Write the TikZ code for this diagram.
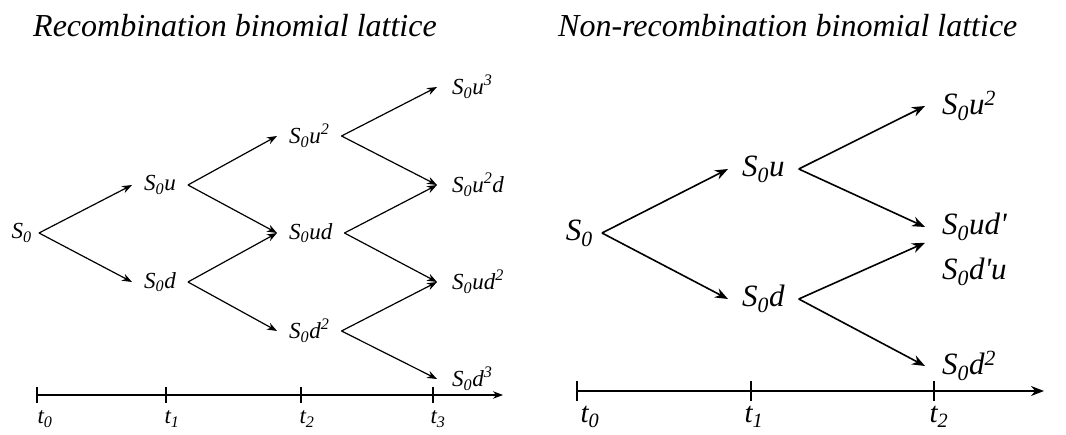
\documentclass[tikz,border=0pt]{standalone}
\usepackage{fontspec}
\setmainfont{Liberation Serif}
\usetikzlibrary{arrows.meta,calc}
\begin{document}
\begin{tikzpicture}[x=1pt,y=-1pt,
  title/.style={font=\fontsize{32}{36}\selectfont\itshape, inner sep=0pt, anchor=base west},
  lnode/.style={font=\fontsize{23}{25}\selectfont\itshape, inner xsep=12pt, inner ysep=2pt},
  rnode/.style={font=\fontsize{31}{34}\selectfont\itshape, inner xsep=14pt, inner ysep=2pt},
  larr/.style={line width=1.2pt, -{Stealth[length=10pt,width=7.5pt]}},
  rarr/.style={line width=1.6pt, -{Stealth[length=13pt,width=10pt]}},
  laxis/.style={line width=1.2pt, -{Stealth[length=10pt,width=7.5pt]}},
  raxis/.style={line width=1.6pt, -{Stealth[length=13pt,width=10pt]}},
  ltick/.style={line width=1.2pt},
  rtick/.style={line width=1.6pt},
  llab/.style={font=\fontsize{23}{25}\selectfont\itshape, inner sep=0pt},
  rlab/.style={font=\fontsize{29}{32}\selectfont\itshape, inner sep=0pt}
]
\path[use as bounding box] (0,0) rectangle (1066,435);

% titles
\node[title] (T1) at (33,37) {Recombination binomial lattice};
\node[title] (T2) at (558,37) {Non-recombination binomial lattice};

% ---------- left lattice ----------
\node[lnode,anchor=east,inner xsep=7pt] (L0) at (39,233) {S\textsubscript{0}};
\node[lnode,anchor=west] (Lu) at (132,185) {S\textsubscript{0}u};
\node[lnode,anchor=west] (Ld) at (132,282) {S\textsubscript{0}d};
\node[lnode,anchor=west] (Luu) at (277,136) {S\textsubscript{0}u\textsuperscript{2}};
\node[lnode,anchor=west] (Lud) at (277,233) {S\textsubscript{0}ud};
\node[lnode,anchor=west] (Ldd) at (277,331) {S\textsubscript{0}d\textsuperscript{2}};
\node[lnode,anchor=west,inner xsep=15pt] (Luuu) at (437,87) {S\textsubscript{0}u\textsuperscript{3}};
\node[lnode,anchor=west,inner xsep=15pt] (Luud) at (437,185) {S\textsubscript{0}u\textsuperscript{2}d};
\node[lnode,anchor=west,inner xsep=15pt] (Ludd) at (437,282) {S\textsubscript{0}ud\textsuperscript{2}};
\node[lnode,anchor=west,inner xsep=15pt] (Lddd) at (437,379) {S\textsubscript{0}d\textsuperscript{3}};

\draw[larr] (L0.east) -- (Lu.west);
\draw[larr] (L0.east) -- (Ld.west);
\draw[larr] (Lu.east) -- (Luu.west);
\draw[larr] (Lu.east) -- (Lud.west);
\draw[larr] (Ld.east) -- (Lud.west);
\draw[larr] (Ld.east) -- (Ldd.west);
\draw[larr] (Luu.east) -- (Luuu.west);
\draw[larr] (Luu.east) -- (Luud.west);
\draw[larr] (Lud.east) -- (Luud.west);
\draw[larr] (Lud.east) -- (Ludd.west);
\draw[larr] (Ldd.east) -- (Ludd.west);
\draw[larr] (Ldd.east) -- (Lddd.west);

% left time axis
\coordinate (la0) at (37,395);
\coordinate (la1) at (166,395);
\coordinate (la2) at (301,395);
\coordinate (la3) at (433,395);
\coordinate (laE) at (503,395);
\draw[laxis] (la0) -- (laE);
\foreach \c in {la0,la1,la2,la3}{\draw[ltick] ([yshift=-8pt]\c) -- ([yshift=8pt]\c);}
\node[llab] (lt0) at (45,419) {t\textsubscript{0}};
\node[llab] (lt1) at (172,419) {t\textsubscript{1}};
\node[llab] (lt2) at (307,419) {t\textsubscript{2}};
\node[llab] (lt3) at (438,419) {t\textsubscript{3}};

% ---------- right lattice ----------
\node[rnode,anchor=east,inner xsep=9pt] (R0) at (602,233) {S\textsubscript{0}};
\node[rnode,anchor=west] (Ru) at (728,169) {S\textsubscript{0}u};
\node[rnode,anchor=west] (Rd) at (728,299) {S\textsubscript{0}d};
\node[rnode,anchor=west,inner xsep=17pt] (Ruu) at (925,106) {S\textsubscript{0}u\textsuperscript{2}};
\node[rnode,anchor=west,inner xsep=17pt] (Rud) at (925,227) {S\textsubscript{0}ud\textquotesingle};
\node[rnode,anchor=west,inner xsep=17pt] (Rdu) at (925,272) {S\textsubscript{0}d\textquotesingle u};
\node[rnode,anchor=west,inner xsep=17pt] (Rdd) at (925,366) {S\textsubscript{0}d\textsuperscript{2}};

\draw[rarr] (R0.east) -- (Ru.west);
\draw[rarr] (R0.east) -- (Rd.west);
\draw[rarr] (Ru.east) -- (Ruu.west);
\draw[rarr] (Ru.east) -- (Rud.west);
\draw[rarr] (Rd.east) -- ($(Rud.west)!0.35!(Rdu.west)$);
\draw[rarr] (Rd.east) -- (Rdd.west);

% right time axis
\coordinate (ra0) at (577,391);
\coordinate (ra1) at (751,391);
\coordinate (ra2) at (934,391);
\coordinate (raE) at (1044,391);
\draw[raxis] (ra0) -- (raE);
\foreach \c in {ra0,ra1,ra2}{\draw[rtick] ([yshift=-10pt]\c) -- ([yshift=10pt]\c);}
\node[rlab] (rt0) at (590,417) {t\textsubscript{0}};
\node[rlab] (rt1) at (754,417) {t\textsubscript{1}};
\node[rlab] (rt2) at (939,417) {t\textsubscript{2}};
\end{tikzpicture}
\end{document}
